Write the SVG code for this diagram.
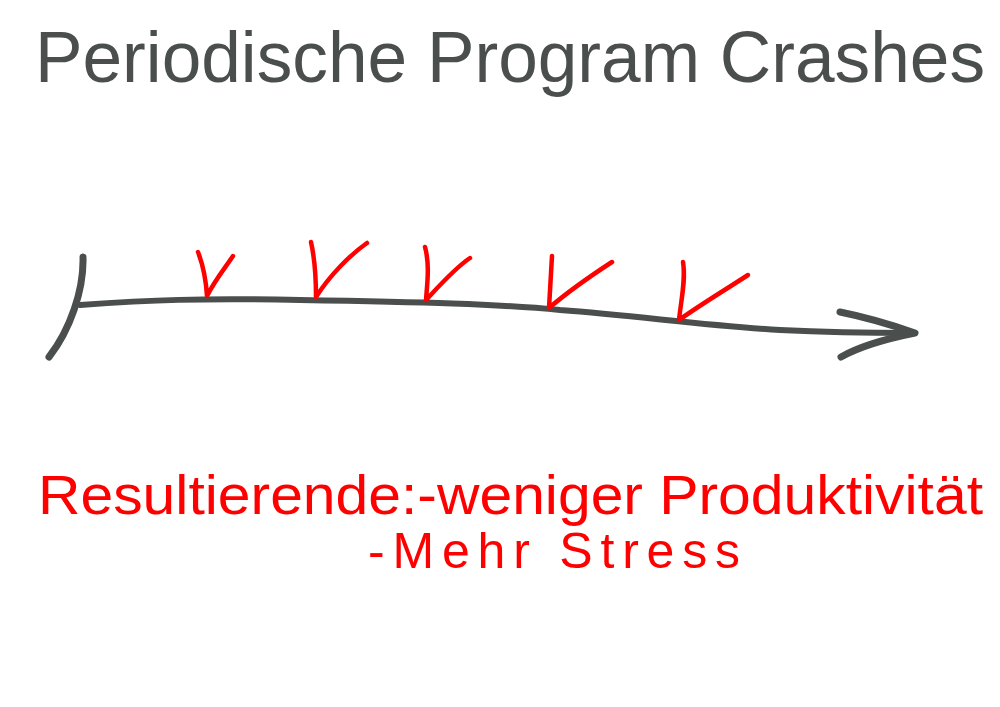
<svg xmlns="http://www.w3.org/2000/svg" width="1000" height="707" viewBox="0 0 1000 707">
<style>
.title{font-family:"Liberation Sans",Arial,sans-serif;fill:#4a4f4e;font-size:72px}
.red{font-family:"Liberation Sans",Arial,sans-serif;fill:#ff0000}
.axis{fill:none;stroke:#4a4f4e;stroke-linecap:round;stroke-linejoin:round}
.tick{fill:none;stroke:#ff0000;stroke-width:4.5;stroke-linecap:round;stroke-linejoin:round}
</style>
<rect width="1000" height="707" fill="#ffffff"/>
<g id="title">
<text class="title" x="35" y="82" textLength="950" lengthAdjust="spacingAndGlyphs">Periodische Program Crashes</text>
</g>
<g id="connectors">
<path class="axis" stroke-width="7" d="M83,257 C84,290 70,330 49,357"/>
<path class="axis" stroke-width="6" d="M80,305 C150,300 200,298 300,300 C420,302 500,304 560,310 C640,316 700,325 780,330 C840,333 880,333 912,333"/>
<path class="axis" stroke-width="7" d="M840,312 C870,318 895,326 915,333 C890,338 862,345 841,357"/>
</g>
<g id="marks">
<path class="tick" d="M198,252 C203,265 206,280 207,296 C215,280 225,268 233,256"/>
<path class="tick" d="M311,242 C315,260 316,280 316,297 C330,275 350,255 367,243"/>
<path class="tick" d="M425,247 C430,265 427,285 426,300 C440,285 455,268 470,258"/>
<path class="tick" d="M552,256 C551,275 550,292 549,308 C570,290 592,275 612,262"/>
<path class="tick" stroke-width="3" d="M683,262 C686,280 681,300 679,320 C700,305 725,290 748,275"/>
</g>
<g id="result">
<text class="red" x="38" y="514" font-size="56" textLength="945" lengthAdjust="spacingAndGlyphs">Resultierende:-weniger Produktivität</text>
<text class="red" x="368" y="568" font-size="50" textLength="372" lengthAdjust="spacing">-Mehr Stress</text>
</g>
</svg>
